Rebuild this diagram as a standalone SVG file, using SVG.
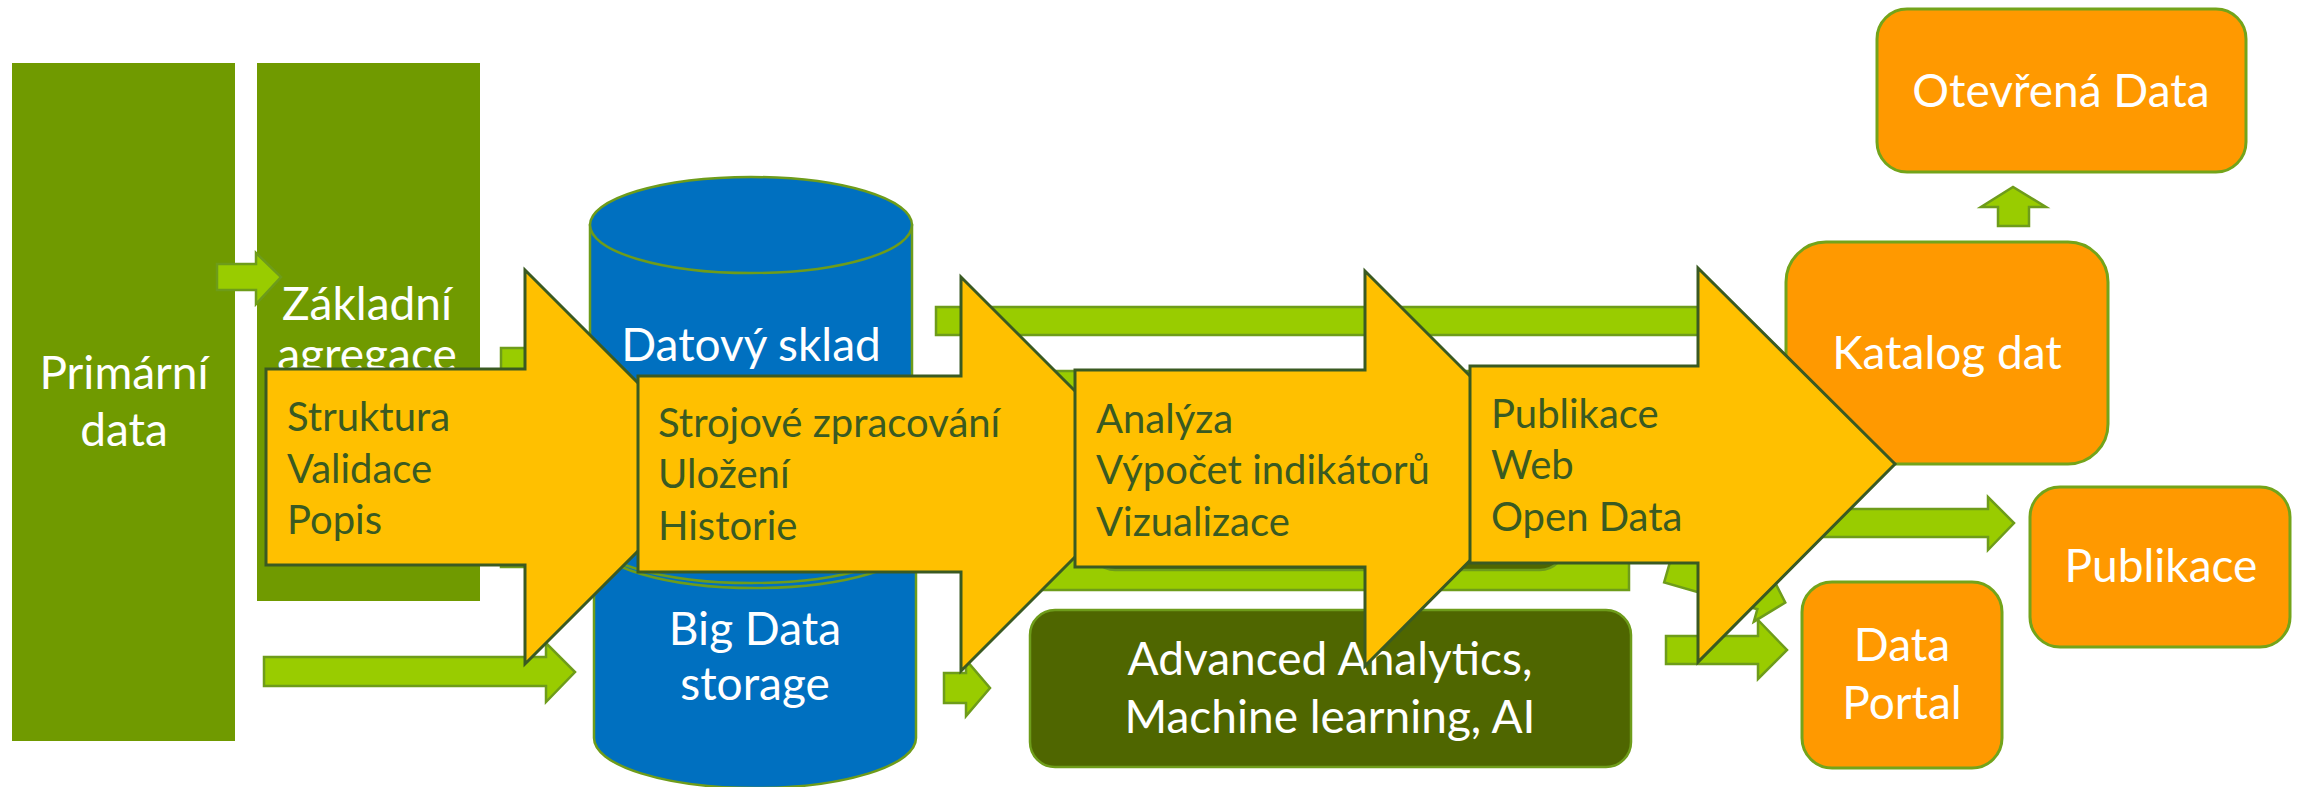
<svg xmlns="http://www.w3.org/2000/svg" width="2305" height="787" viewBox="0 0 2305 787">
<style>
.dg{fill:#709A00}
.lg{fill:#99CC00;stroke:#6E9C1A;stroke-width:2.5}
.ya{fill:#FFC000;stroke:#3A5A22;stroke-width:3}
.or{fill:#FF9900;stroke:#73A41A;stroke-width:3}
.cyl{fill:#0070C0;stroke:#6E9C1A;stroke-width:2.5}
.wt{fill:#FFFFFF;font-family:Lato,"Noto Sans",sans-serif;font-size:46px}
.yt{fill:#3A5A22;font-family:Lato,"Noto Sans",sans-serif;font-size:40px}
.c{text-anchor:middle}
</style>
<rect width="2305" height="787" fill="#FFFFFF"/>
<g id="primarni">
<rect class="dg" x="12" y="63" width="223" height="678"/>
<text class="wt c" x="124" y="389">Primární</text>
<text class="wt c" x="124" y="446">data</text>
</g>
<g id="agregace">
<rect class="dg" x="257" y="63" width="223" height="538"/>
<text class="wt c" x="367" y="320">Základní</text>
<text class="wt c" x="367" y="371">agregace</text>
</g>
<g id="connectors-back">
<polygon class="lg" points="217,264 256,264 256,253 281,277 256,304 256,290 217,290"/>
<rect class="lg" x="501" y="348" width="100" height="219"/>
<polygon class="lg" points="264,657 546,657 546,643 575,672 546,702 546,686 264,686"/>
</g>
<g id="sklad">
<path class="cyl" d="M594,540 L594,738 A161,50 0 0 0 916,738 L916,540 Z"/>
<ellipse class="cyl" cx="755" cy="540" rx="161" ry="48"/>
<path class="cyl" d="M590,225 L590,535 A161,48 0 0 0 912,535 L912,225 Z"/>
<ellipse class="cyl" cx="751" cy="225" rx="161" ry="48"/>
<text class="wt c" x="751" y="361">Datový sklad</text>
<text class="wt c" x="755" y="645">Big Data</text>
<text class="wt c" x="755" y="700">storage</text>
</g>
<g id="connectors">
<rect class="lg" x="936" y="307" width="794" height="28"/>
<rect class="lg" x="1000" y="371" width="629" height="219"/>
<polygon class="lg" points="944,673 966,673 966,660 990,688 966,716 966,703 944,703"/>
<polygon class="lg" points="1780,509 1988,509 1988,497 2014,523 1988,550 1988,537 1780,537"/>
<polygon class="lg" transform="translate(1668,569) rotate(16)" points="0,-14 97,-14 97,-27 122,0 97,27 97,14 0,14"/>
<polygon class="lg" points="1666,636 1758,636 1758,620 1787,650 1758,679 1758,664 1666,664"/>
<polygon class="lg" points="1998,226 1998,207 1981,207 2013,187 2046,207 2029,207 2029,226"/>
</g>
<g id="analyza-back">
<rect x="1090" y="374" width="475" height="196" rx="25" fill="#4F6600" stroke="#6E9C1A" stroke-width="2.5"/>
</g>
<g id="advanced">
<rect x="1030" y="610" width="601" height="157" rx="25" fill="#4F6600" stroke="#6E9C1A" stroke-width="2.5"/>
<text class="wt c" x="1330" y="675">Advanced Analytics,</text>
<text class="wt c" x="1330" y="733">Machine learning, AI</text>
</g>
<g id="otevrena">
<rect class="or" x="1877" y="9" width="369" height="163" rx="30"/>
<text class="wt c" x="2061" y="107">Otevřená Data</text>
</g>
<g id="katalog">
<rect class="or" x="1786" y="242" width="322" height="222" rx="40"/>
<text class="wt c" x="1947" y="369">Katalog dat</text>
</g>
<g id="publikace">
<rect class="or" x="2030" y="487" width="260" height="160" rx="30"/>
<text class="wt c" x="2161" y="582">Publikace</text>
</g>
<g id="portal">
<rect class="or" x="1802" y="582" width="200" height="186" rx="30"/>
<text class="wt c" x="1902" y="661">Data</text>
<text class="wt c" x="1902" y="719">Portal</text>
</g>
<g id="step1">
<polygon class="ya" points="266,369 525,369 525,270 722,467 525,664 525,565 266,565"/>
<text class="yt" x="287" y="431">Struktura</text>
<text class="yt" x="287" y="483">Validace</text>
<text class="yt" x="287" y="534">Popis</text>
</g>
<g id="step2">
<polygon class="ya" points="638,376 961,376 961,277 1158,474 961,671 961,572 638,572"/>
<text class="yt" x="658" y="437">Strojové zpracování</text>
<text class="yt" x="658" y="488">Uložení</text>
<text class="yt" x="658" y="540">Historie</text>
</g>
<g id="step3">
<polygon class="ya" points="1075,370 1365,370 1365,271 1562,468 1365,666 1365,567 1075,567"/>
<text class="yt" x="1096" y="433">Analýza</text>
<text class="yt" x="1096" y="484">Výpočet indikátorů</text>
<text class="yt" x="1096" y="536">Vizualizace</text>
</g>
<g id="step4">
<polygon class="ya" points="1470,366 1698,366 1698,268 1895,464 1698,662 1698,563 1470,563"/>
<text class="yt" x="1491" y="428">Publikace</text>
<text class="yt" x="1491" y="479">Web</text>
<text class="yt" x="1491" y="531">Open Data</text>
</g>
</svg>
